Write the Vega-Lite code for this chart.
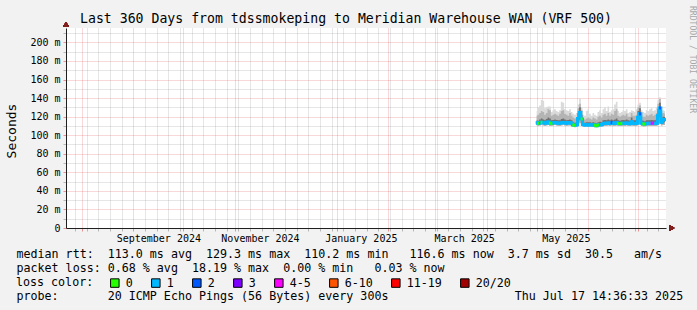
{
  "$schema": "https://vega.github.io/schema/vega-lite/v6.json",
  "width": 600,
  "height": 200,
  "autosize": {"type": "none"},
  "padding": {"left": 66, "top": 28, "right": 31, "bottom": 82},
  "background": "#f2f2f2",
  "config": {
    "font": "DejaVu Sans Mono",
    "view": {"fill": "#ffffff", "stroke": null},
    "axis": {"labelFont": "DejaVu Sans Mono", "titleFont": "DejaVu Sans Mono", "labelColor": "#000000", "titleColor": "#000000", "titleFontWeight": "normal", "domainColor": "#1f1f1f", "labelFlush": false, "labelOverlap": false, "labelBound": false}
  },
  "title": {"text": "Last 360 Days from tdssmokeping to Meridian Warehouse WAN (VRF 500)", "anchor": "start", "frame": "group", "dx": 14, "dy": 35, "offset": 4, "baseline": "alphabetic", "font": "DejaVu Sans Mono", "fontSize": 13.2, "fontWeight": "normal", "color": "#000000"},
  "data": {"values": [
    {"d":"2025-05-01","m":113.5,"l":"1","lo":110.5,"q1":112,"q3":116,"p9":121,"hi":126},
    {"d":"2025-05-02","m":112.8,"l":"0","lo":110,"q1":111.5,"q3":115.5,"p9":122,"hi":130},
    {"d":"2025-05-03","m":113.2,"l":"1","lo":110.5,"q1":112,"q3":117,"p9":124,"hi":132},
    {"d":"2025-05-04","m":114,"l":"0","lo":111,"q1":112.5,"q3":118,"p9":126,"hi":138},
    {"d":"2025-05-05","m":113.6,"l":"1","lo":110.5,"q1":112,"q3":117,"p9":125,"hi":137},
    {"d":"2025-05-06","m":113,"l":"1","lo":110,"q1":111.5,"q3":116,"p9":122,"hi":129},
    {"d":"2025-05-07","m":113.4,"l":"1","lo":110.5,"q1":112,"q3":117.5,"p9":124,"hi":130},
    {"d":"2025-05-08","m":114.2,"l":"1","lo":111,"q1":112.5,"q3":119,"p9":128,"hi":131},
    {"d":"2025-05-09","m":113,"l":"0","lo":110,"q1":111.5,"q3":118,"p9":127,"hi":131},
    {"d":"2025-05-10","m":112.6,"l":"0","lo":110,"q1":111.5,"q3":116,"p9":121,"hi":125},
    {"d":"2025-05-11","m":113.5,"l":"1","lo":110.5,"q1":112,"q3":116.5,"p9":122,"hi":127},
    {"d":"2025-05-12","m":113.8,"l":"1","lo":111,"q1":112.5,"q3":117,"p9":123,"hi":128},
    {"d":"2025-05-13","m":113.2,"l":"1","lo":110.5,"q1":112,"q3":116.5,"p9":122,"hi":126},
    {"d":"2025-05-14","m":113,"l":"1","lo":110,"q1":111.5,"q3":116,"p9":121,"hi":125},
    {"d":"2025-05-15","m":112.8,"l":"1","lo":110,"q1":111.5,"q3":116,"p9":123,"hi":127},
    {"d":"2025-05-16","m":113.5,"l":"1","lo":110.5,"q1":112,"q3":117.5,"p9":126,"hi":136},
    {"d":"2025-05-17","m":113.8,"l":"1","lo":111,"q1":112.5,"q3":118,"p9":127,"hi":135},
    {"d":"2025-05-18","m":113.2,"l":"1","lo":110.5,"q1":112,"q3":117,"p9":123,"hi":128},
    {"d":"2025-05-19","m":113,"l":"1","lo":110,"q1":111.5,"q3":116,"p9":122,"hi":127},
    {"d":"2025-05-20","m":113.6,"l":"1","lo":110.5,"q1":112,"q3":116.5,"p9":121,"hi":126},
    {"d":"2025-05-21","m":113.4,"l":"1","lo":110.5,"q1":112,"q3":117,"p9":124,"hi":128},
    {"d":"2025-05-22","m":113,"l":"1","lo":110,"q1":111.5,"q3":116,"p9":121,"hi":125},
    {"d":"2025-05-23","m":111,"l":"0","lo":109,"q1":110,"q3":114,"p9":119,"hi":123},
    {"d":"2025-05-24","m":110.8,"l":"0","lo":108.5,"q1":110,"q3":113.5,"p9":118,"hi":122},
    {"d":"2025-05-25","m":111.2,"l":"1","lo":109,"q1":110.5,"q3":114,"p9":119,"hi":124},
    {"d":"2025-05-26","m":118,"l":"1","lo":111,"q1":114,"q3":124,"p9":129,"hi":133},
    {"d":"2025-05-27","m":124.5,"l":"1","lo":113,"q1":119,"q3":130,"p9":134,"hi":140},
    {"d":"2025-05-28","m":117.5,"l":"0","lo":110,"q1":113,"q3":122,"p9":127,"hi":130},
    {"d":"2025-05-29","m":111.4,"l":"1","lo":109,"q1":110.5,"q3":114,"p9":118,"hi":122},
    {"d":"2025-05-30","m":111,"l":"1","lo":109,"q1":110.5,"q3":113.5,"p9":117,"hi":121},
    {"d":"2025-05-31","m":111.2,"l":"1","lo":109,"q1":110.5,"q3":114,"p9":118,"hi":126},
    {"d":"2025-06-01","m":111,"l":"1","lo":109,"q1":110.5,"q3":114,"p9":119,"hi":128},
    {"d":"2025-06-02","m":111.3,"l":"1","lo":109,"q1":110.5,"q3":114,"p9":118,"hi":123},
    {"d":"2025-06-03","m":111,"l":"1","lo":109,"q1":110.5,"q3":113.5,"p9":117,"hi":121},
    {"d":"2025-06-04","m":111.2,"l":"1","lo":109,"q1":110.5,"q3":114,"p9":119,"hi":124},
    {"d":"2025-06-05","m":110.8,"l":"0","lo":108.5,"q1":110,"q3":113.5,"p9":118,"hi":122},
    {"d":"2025-06-06","m":110.2,"l":"0","lo":108.5,"q1":109.5,"q3":113,"p9":117,"hi":121},
    {"d":"2025-06-07","m":111,"l":"0","lo":109,"q1":110.5,"q3":114,"p9":120,"hi":125},
    {"d":"2025-06-08","m":111.4,"l":"1","lo":109,"q1":110.5,"q3":114.5,"p9":121,"hi":127},
    {"d":"2025-06-09","m":111.2,"l":"1","lo":109,"q1":110.5,"q3":114,"p9":119,"hi":124},
    {"d":"2025-06-10","m":112.6,"l":"1","lo":110,"q1":111.5,"q3":116,"p9":122,"hi":128},
    {"d":"2025-06-11","m":113,"l":"1","lo":110,"q1":111.5,"q3":116.5,"p9":123,"hi":130},
    {"d":"2025-06-12","m":112.8,"l":"1","lo":110,"q1":111.5,"q3":116,"p9":121,"hi":126},
    {"d":"2025-06-13","m":113.2,"l":"1","lo":110.5,"q1":112,"q3":117,"p9":124,"hi":131},
    {"d":"2025-06-14","m":112.5,"l":"1","lo":110,"q1":111.5,"q3":116,"p9":121,"hi":125},
    {"d":"2025-06-15","m":113.5,"l":"2","lo":110.5,"q1":112,"q3":117,"p9":123,"hi":127},
    {"d":"2025-06-16","m":112.8,"l":"1","lo":110,"q1":111.5,"q3":116,"p9":122,"hi":128},
    {"d":"2025-06-17","m":113,"l":"1","lo":110,"q1":111.5,"q3":117,"p9":126,"hi":133},
    {"d":"2025-06-18","m":113.4,"l":"1","lo":110.5,"q1":112,"q3":118,"p9":128,"hi":136},
    {"d":"2025-06-19","m":112.6,"l":"0","lo":110,"q1":111.5,"q3":116,"p9":121,"hi":126},
    {"d":"2025-06-20","m":112.4,"l":"0","lo":110,"q1":111.5,"q3":115.5,"p9":120,"hi":124},
    {"d":"2025-06-21","m":112.8,"l":"0","lo":110,"q1":111.5,"q3":116,"p9":121,"hi":125},
    {"d":"2025-06-22","m":113,"l":"1","lo":110,"q1":111.5,"q3":116.5,"p9":122,"hi":127},
    {"d":"2025-06-23","m":112.8,"l":"1","lo":110,"q1":111.5,"q3":116,"p9":121,"hi":126},
    {"d":"2025-06-24","m":113.2,"l":"1","lo":110.5,"q1":112,"q3":117,"p9":123,"hi":128},
    {"d":"2025-06-25","m":112.6,"l":"1","lo":110,"q1":111.5,"q3":116,"p9":120,"hi":124},
    {"d":"2025-06-26","m":112.4,"l":"1","lo":110,"q1":111.5,"q3":115.5,"p9":120,"hi":125},
    {"d":"2025-06-27","m":114.5,"l":"1","lo":110.5,"q1":112,"q3":119,"p9":124,"hi":127},
    {"d":"2025-06-28","m":112.8,"l":"1","lo":110,"q1":111.5,"q3":116,"p9":121,"hi":126},
    {"d":"2025-06-29","m":112.5,"l":"1","lo":110,"q1":111.5,"q3":116,"p9":121,"hi":125},
    {"d":"2025-06-30","m":113,"l":"1","lo":110,"q1":111.5,"q3":116.5,"p9":122,"hi":128},
    {"d":"2025-07-01","m":119,"l":"1","lo":111,"q1":114,"q3":126,"p9":130,"hi":133},
    {"d":"2025-07-02","m":123,"l":"2","lo":112,"q1":117,"q3":129,"p9":132,"hi":135},
    {"d":"2025-07-03","m":112.8,"l":"1","lo":110,"q1":111.5,"q3":116,"p9":121,"hi":127},
    {"d":"2025-07-04","m":112.2,"l":"0","lo":109.5,"q1":111,"q3":115.5,"p9":120,"hi":125},
    {"d":"2025-07-05","m":112,"l":"0","lo":109.5,"q1":111,"q3":115,"p9":120,"hi":124},
    {"d":"2025-07-06","m":112.6,"l":"1","lo":110,"q1":111.5,"q3":116,"p9":122,"hi":127},
    {"d":"2025-07-07","m":112.8,"l":"1","lo":110,"q1":111.5,"q3":116,"p9":121,"hi":126},
    {"d":"2025-07-08","m":112.5,"l":"1","lo":110,"q1":111.5,"q3":116,"p9":122,"hi":128},
    {"d":"2025-07-09","m":112.8,"l":"4-5","lo":110,"q1":111.5,"q3":116.5,"p9":123,"hi":129},
    {"d":"2025-07-10","m":113,"l":"4-5","lo":110,"q1":111.5,"q3":116,"p9":121,"hi":126},
    {"d":"2025-07-11","m":112.6,"l":"1","lo":110,"q1":111.5,"q3":116,"p9":122,"hi":127},
    {"d":"2025-07-12","m":113,"l":"1","lo":110,"q1":111.5,"q3":117,"p9":124,"hi":130},
    {"d":"2025-07-13","m":121,"l":"1","lo":111,"q1":115,"q3":128,"p9":134,"hi":138},
    {"d":"2025-07-14","m":129.3,"l":"2","lo":113,"q1":121,"q3":135,"p9":139,"hi":141},
    {"d":"2025-07-15","m":114,"l":"1","lo":110.5,"q1":112,"q3":118,"p9":123,"hi":126},
    {"d":"2025-07-16","m":117,"l":"1","lo":111,"q1":114,"q3":120,"p9":124,"hi":127},
    {"d":"2025-07-17","m":116.6,"l":"1","lo":111,"q1":114,"q3":119.5,"p9":123,"hi":126}
  ]},
  "layer": [
    {
      "mark": {"type": "area", "interpolate": "step", "color": "#dadada", "opacity": 1},
      "encoding": {
        "x": {
          "field": "d",
          "type": "temporal",
          "scale": {"type": "utc", "domain": [1721658993000, 1752762993000]},
          "axis": {
            "orient": "bottom",
            "values": [1722124800000,1722729600000,1723334400000,1723939200000,1724544000000,1725148800000,1725753600000,1726358400000,1726963200000,1727568000000,1728172800000,1728777600000,1729382400000,1729987200000,1730592000000,1731196800000,1731801600000,1732406400000,1733011200000,1733616000000,1734220800000,1734825600000,1735430400000,1736035200000,1736640000000,1737244800000,1737849600000,1738454400000,1739059200000,1739664000000,1740268800000,1740873600000,1741478400000,1742083200000,1742688000000,1743292800000,1743897600000,1744502400000,1745107200000,1745712000000,1746316800000,1746921600000,1747526400000,1748131200000,1748736000000,1749340800000,1749945600000,1750550400000,1751155200000,1751760000000,1752364800000,1722470400000,1727740800000,1730419200000,1735689600000,1738368000000,1740787200000,1743465600000,1746057600000,1751328000000,1726444860000,1731715260000,1736942460000,1742299260000,1747569660000],
            "labelExpr": "utcminutes(datum.value) === 1 ? utcFormat(datum.value, '%B %Y') : ''",
            "labelFontSize": 10,
            "labelPadding": 2,
            "labelAlign": "center",
            "tickSize": 3,
            "tickColor": {"condition": {"test": "utcdate(datum.value) === 1 && utchours(datum.value) === 0", "value": "#e05050"}, "value": "#909090"},
            "tickOpacity": {"condition": {"test": "utcminutes(datum.value) === 1", "value": 0}, "value": 0.6},
            "grid": true,
            "gridColor": {"condition": {"test": "utcdate(datum.value) === 1 && utchours(datum.value) === 0", "value": "#e05050"}, "value": "#909090"},
            "gridOpacity": {"condition": {"test": "utcminutes(datum.value) === 1", "value": 0}, "value": 0.45},
            "gridDash": [1, 1],
            "title": [
              "median rtt:\u00a0\u00a0113.0 ms avg\u00a0\u00a0129.3 ms max\u00a0\u00a0110.2 ms min\u00a0\u00a0\u00a0116.6 ms now\u00a0\u00a03.7 ms sd\u00a0\u00a030.5\u00a0\u00a0\u00a0am/s",
              "packet loss: 0.68 % avg\u00a0\u00a018.19 % max\u00a0\u00a00.00 % min\u00a0\u00a0\u00a00.03 % now"
            ],
            "titleFontSize": 11.67,
            "titleX": -50,
            "titleY": 29.7,
            "titleAlign": "left",
            "titleAnchor": "start",
            "titleBaseline": "alphabetic",
            "titleLineHeight": 14,
            "titleAngle": 0
          }
        },
        "y": {
          "field": "lo",
          "type": "quantitative",
          "scale": {"domain": [0, 215.5], "nice": false, "zero": false},
          "axis": {
            "orient": "left",
            "values": [0,10,20,30,40,50,60,70,80,90,100,110,120,130,140,150,160,170,180,190,200,210],
            "labelExpr": "datum.value % 20 === 0 ? (datum.value === 0 ? '0' : datum.value + ' m') : ''",
            "labelFontSize": 10,
            "labelPadding": 3,
            "tickSize": 3,
            "tickColor": {"condition": {"test": "datum.value % 20 === 0", "value": "#e05050"}, "value": "#909090"},
            "tickOpacity": 0.6,
            "grid": true,
            "gridColor": {"condition": {"test": "datum.value % 20 === 0", "value": "#e05050"}, "value": "#909090"},
            "gridOpacity": 0.45,
            "gridDash": [1, 1],
            "title": "Seconds",
            "titleFontSize": 13,
            "titleAngle": -90,
            "titleX": -51,
            "titleY": 102.5,
            "titleAlign": "center",
            "titleBaseline": "alphabetic"
          }
        },
        "y2": {"field": "hi"}
      }
    },
    {
      "mark": {"type": "area", "interpolate": "step", "color": "#b4b4b4", "opacity": 1},
      "encoding": {
        "x": {"field": "d", "type": "temporal", "axis": null},
        "y": {"field": "lo", "type": "quantitative", "axis": null},
        "y2": {"field": "p9"}
      }
    },
    {
      "mark": {"type": "area", "interpolate": "step", "color": "#707070", "opacity": 1},
      "encoding": {
        "x": {"field": "d", "type": "temporal", "axis": null},
        "y": {"field": "q1", "type": "quantitative", "axis": null},
        "y2": {"field": "q3"}
      }
    },
    {
      "mark": {"type": "line", "interpolate": "step", "color": "#00b8ff", "strokeWidth": 3},
      "encoding": {
        "x": {"field": "d", "type": "temporal", "axis": null},
        "y": {
          "field": "m",
          "type": "quantitative",
          "axis": {"orient": "right", "domain": false, "ticks": false, "labels": false, "grid": false, "title": "RRDTOOL / TOBI OETIKER", "titleAngle": 90, "titleX": 25.7, "titleY": 31, "titleAlign": "center", "titleBaseline": "middle", "titleFontSize": 8.1, "titleColor": "#a8a8a8"}
        }
      }
    },
    {
      "mark": {"type": "tick", "orient": "horizontal", "thickness": 3, "size": 2, "opacity": 1},
      "encoding": {
        "x": {
          "field": "d",
          "type": "temporal",
          "axis": {"orient": "bottom", "domain": false, "ticks": false, "labels": false, "grid": false, "title": "probe:\u00a0\u00a0\u00a0\u00a0\u00a0\u00a0\u00a020 ICMP Echo Pings (56 Bytes) every 300s\u00a0\u00a0\u00a0\u00a0\u00a0\u00a0\u00a0\u00a0\u00a0\u00a0\u00a0\u00a0\u00a0\u00a0\u00a0\u00a0\u00a0\u00a0Thu Jul 17 14:36:33 2025", "titleFontSize": 11.67, "titleX": -50, "titleY": 71.7, "titleAlign": "left", "titleAnchor": "start", "titleBaseline": "alphabetic", "titleAngle": 0}
        },
        "y": {"field": "m", "type": "quantitative", "axis": null},
        "color": {
          "field": "l",
          "type": "nominal",
          "scale": {"domain": ["0","1","2","3","4-5","6-10","11-19","20/20"], "range": ["#26ff00","#00b8ff","#0059ff","#7e00ff","#ff00ff","#ff5500","#ff0000","#a10000"]},
          "legend": {"orient": "none", "legendX": -50, "legendY": 249, "direction": "horizontal", "columns": 8, "title": "loss color:", "titleOrient": "left", "titleAnchor": "start", "titleBaseline": "top", "titleFont": "DejaVu Sans Mono", "titleFontSize": 11.67, "titleFontWeight": "normal", "titleColor": "#000000", "titlePadding": 15, "symbolType": "square", "symbolSize": 72, "symbolStrokeColor": "#000000", "symbolStrokeWidth": 1, "symbolOpacity": 1, "labelFont": "DejaVu Sans Mono", "labelFontSize": 11.67, "labelColor": "#000000", "labelOffset": 5, "columnPadding": 16, "padding": 0}
        }
      }
    },
    {
      "mark": {"type": "point", "shape": "triangle-up", "filled": true, "color": "#801f1f", "opacity": 1, "size": 25},
      "encoding": {
        "x": {"datum": 1721658993000, "type": "temporal", "axis": null},
        "y": {"datum": 219.5, "type": "quantitative", "axis": null}
      }
    },
    {
      "mark": {"type": "point", "shape": "triangle-right", "filled": true, "color": "#801f1f", "opacity": 1, "size": 25},
      "encoding": {
        "x": {"datum": 1753074033000, "type": "temporal", "axis": null},
        "y": {"datum": 0, "type": "quantitative", "axis": null}
      }
    }
  ],
  "resolve": {"axis": {"x": "independent", "y": "independent"}}
}
